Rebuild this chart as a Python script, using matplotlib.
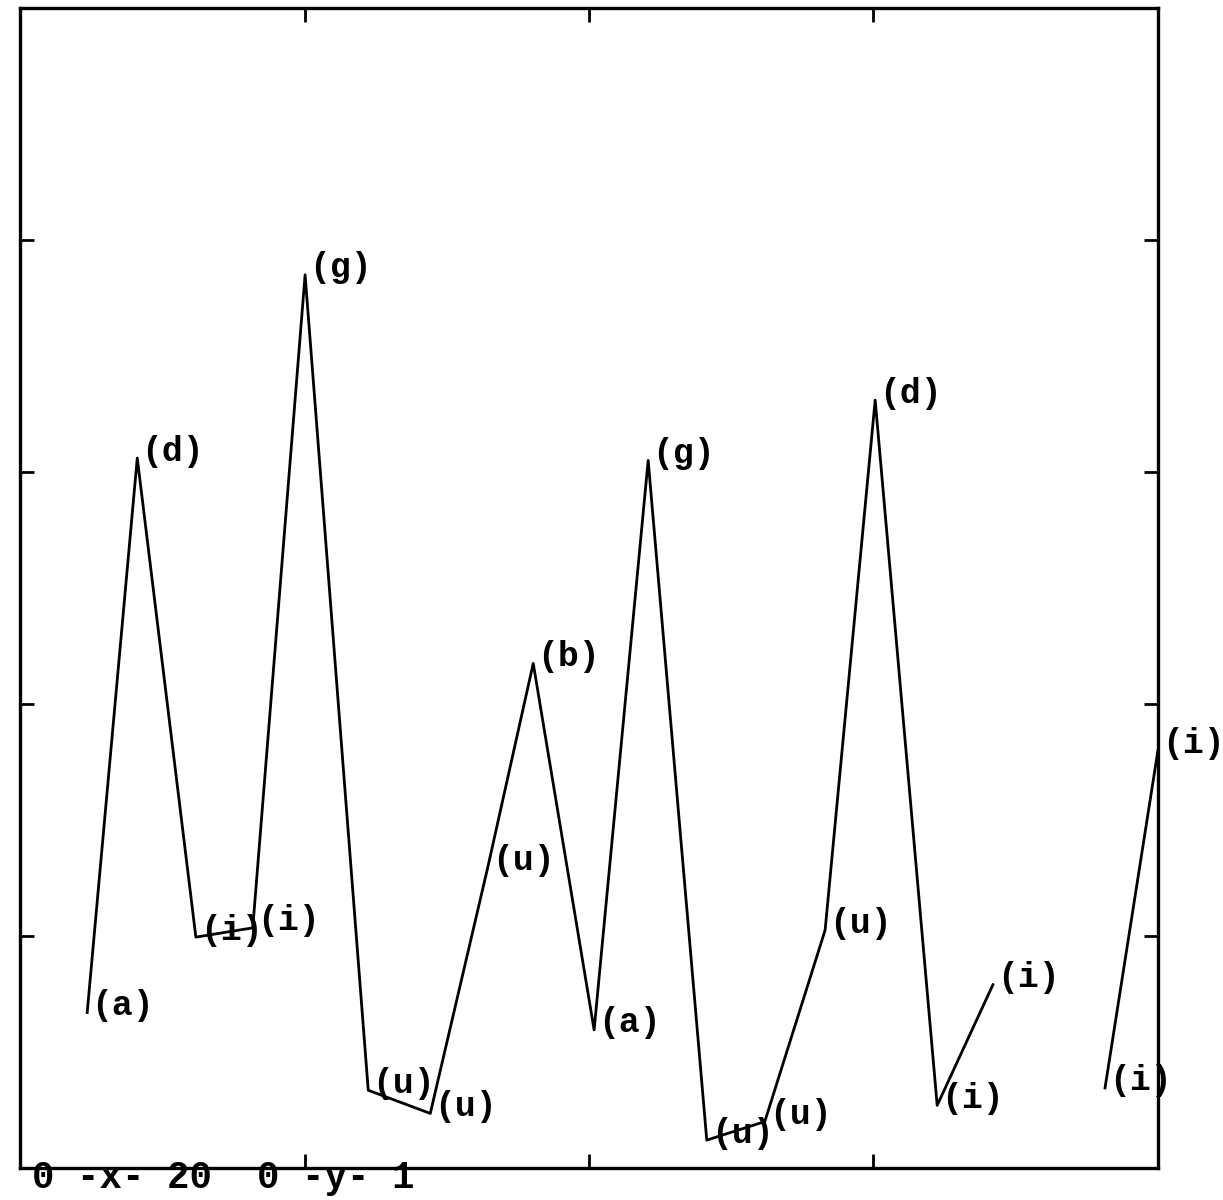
import numpy as np
import matplotlib
matplotlib.use('Agg')
import matplotlib.pyplot as plt

# values (x: 0..20, y: 0..1)
x = [1.18, 2.06, 3.09, 4.09, 5.01, 6.12, 7.21, 8.22, 9.02, 10.09,
     11.04, 12.07, 13.09, 14.15, 15.03, 16.12, 17.10, 18.0, 19.07, 20.0]
y = [0.134, 0.612, 0.199, 0.207, 0.770, 0.067, 0.047, 0.259, 0.435, 0.119,
     0.610, 0.024, 0.040, 0.205, 0.662, 0.054, 0.158, np.nan, 0.069, 0.360]
labels = ['a', 'd', 'i', 'i', 'g', 'u', 'u', 'u', 'b', 'a',
          'g', 'u', 'u', 'u', 'd', 'i', 'i', '', 'i', 'i']

xticks = [5, 10, 15]
yticks = [0.2, 0.4, 0.6, 0.8]
caption = "0 -x- 20  0 -y- 1"

mono = ['Liberation Mono', 'DejaVu Sans Mono']

fig = plt.figure(figsize=(12.23, 12), dpi=100)
ax = fig.add_axes([0.0164, 0.0267, 0.9304, 0.9666])

ax.plot(x, y, color='black', linewidth=2.0)

for xi, yi, lab in zip(x, y, labels):
    if not lab or np.isnan(yi):
        continue
    ax.annotate('(' + lab + ')', (xi, yi), xytext=(3, 5), textcoords='offset points',
                ha='left', va='center', fontsize=25, fontweight='bold',
                family=mono, clip_on=False, annotation_clip=False)

ax.set_xlim(0, 20)
ax.set_ylim(0, 1)
ax.set_xticks(xticks)
ax.set_yticks(yticks)
ax.tick_params(direction='in', length=10, width=2.0, top=True, right=True,
               labelbottom=False, labelleft=False)
for sp in ax.spines.values():
    sp.set_linewidth(2.4)

fig.text(0.026, 0.003, caption, fontsize=27, fontweight='bold', family=mono,
         ha='left', va='bottom')

fig.savefig('out.png', dpi=100, facecolor='white')
